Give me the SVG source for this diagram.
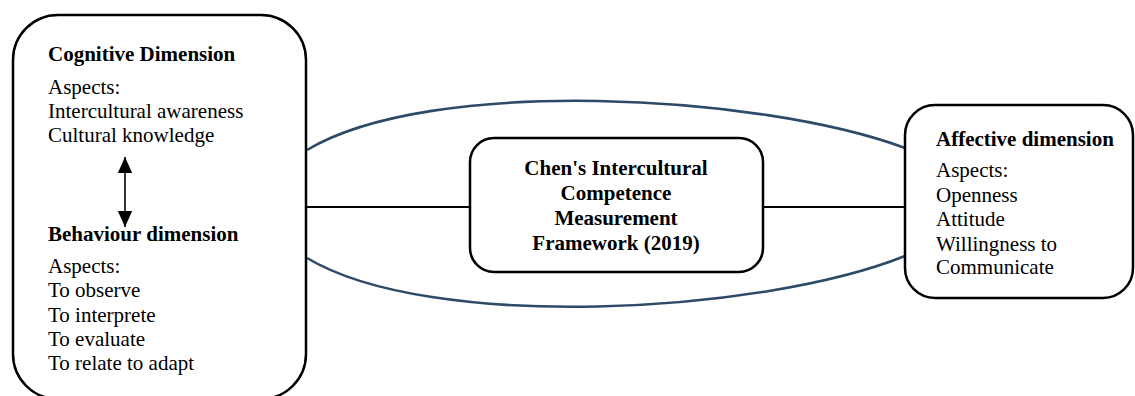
<svg xmlns="http://www.w3.org/2000/svg" width="1135" height="396" viewBox="0 0 1135 396">
  <defs>
    <style>
      .box { fill: #ffffff; stroke: #000000; stroke-width: 2.5; }
      .t { font-size: 21px; fill: #000000; }
      .b { font-weight: bold; }
      .link { fill: none; stroke: #000000; stroke-width: 2.2; }
      .curve { fill: none; stroke: #2d4a68; stroke-width: 2.6; }
      .dbl { stroke: #000000; stroke-width: 1.6; }
    </style>
    <marker id="headEnd" viewBox="0 0 10 10" refX="10" refY="5" markerWidth="16" markerHeight="16" markerUnits="userSpaceOnUse" orient="auto">
      <path d="M0,0.5 L10,5 L0,9.5 Z" fill="#000000"/>
    </marker>
    <marker id="headStart" viewBox="0 0 10 10" refX="0" refY="5" markerWidth="16" markerHeight="16" markerUnits="userSpaceOnUse" orient="auto">
      <path d="M10,0.5 L0,5 L10,9.5 Z" fill="#000000"/>
    </marker>
  </defs>

  <!-- connectors -->
  <g id="connectors">
    <path class="curve" d="M307,150 C430,76 760,94 905,148"/>
    <path class="curve" d="M307,258 C430,332 760,314 905,256"/>
    <line class="link" x1="307" y1="207" x2="470" y2="207"/>
    <line class="link" x1="763" y1="207" x2="905" y2="207"/>
  </g>

  <g font-family="'Liberation Serif', 'Times New Roman', Times, serif">
    <!-- left node: cognitive and behaviour dimensions -->
    <g id="node-cognitive-behaviour">
      <rect class="box" x="13" y="15" width="293" height="384" rx="45" ry="45"/>
      <text class="t b" x="48" y="61">Cognitive Dimension</text>
      <text class="t" x="48" y="94">Aspects:</text>
      <text class="t" x="48" y="118">Intercultural awareness</text>
      <text class="t" x="48" y="142">Cultural knowledge</text>
      <line class="dbl" x1="125" y1="157" x2="125" y2="227" marker-start="url(#headStart)" marker-end="url(#headEnd)"/>
      <text class="t b" x="48" y="241">Behaviour dimension</text>
      <text class="t" x="48" y="273">Aspects:</text>
      <text class="t" x="48" y="297">To observe</text>
      <text class="t" x="48" y="322">To interprete</text>
      <text class="t" x="48" y="346">To evaluate</text>
      <text class="t" x="48" y="370">To relate to adapt</text>
    </g>

    <!-- centre node -->
    <g id="node-framework">
      <rect class="box" x="470" y="138" width="293" height="134" rx="24" ry="24"/>
      <text class="t b" text-anchor="middle" x="616" y="175">Chen's Intercultural</text>
      <text class="t b" text-anchor="middle" x="616" y="200">Competence</text>
      <text class="t b" text-anchor="middle" x="616" y="225">Measurement</text>
      <text class="t b" text-anchor="middle" x="616" y="250">Framework (2019)</text>
    </g>

    <!-- right node: affective dimension -->
    <g id="node-affective">
      <rect class="box" x="905" y="105" width="228" height="193" rx="30" ry="30"/>
      <text class="t b" x="936" y="146">Affective dimension</text>
      <text class="t" x="936" y="177">Aspects:</text>
      <text class="t" x="936" y="202">Openness</text>
      <text class="t" x="936" y="226">Attitude</text>
      <text class="t" x="936" y="251">Willingness to</text>
      <text class="t" x="936" y="274">Communicate</text>
    </g>
  </g>
</svg>
